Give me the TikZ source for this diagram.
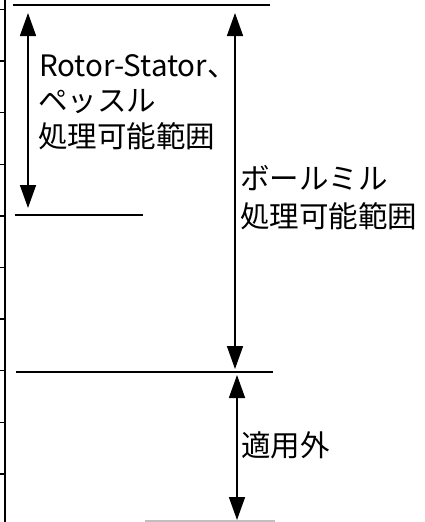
\documentclass[tikz,border=0pt]{standalone}
\usepackage{fontspec}
\setmainfont{Noto Sans CJK JP}
\usetikzlibrary{arrows.meta}
\begin{document}
\begin{tikzpicture}[x=1pt,y=-1pt,
  rule/.style={line width=2.4pt},
  axisline/.style={line width=2pt},
  tickline/.style={line width=1.4pt},
  faint/.style={line width=1.2pt, draw=black!25},
  dim/.style={line width=1.6pt, {Triangle[length=23pt,width=16pt]}-{Triangle[length=23pt,width=16pt]}},
  lbl/.style={anchor=base west, inner sep=0pt, font=\fontsize{29.5}{36}\selectfont}]
\useasboundingbox (0,0) rectangle (425,522);
% left scale
\coordinate (axT) at (5,0);
\coordinate (axB) at (5,522);
\draw[axisline] (axT) -- (axB);
\foreach \k in {0,...,9} \draw[tickline] (0,9.4+51.6*\k) -- (5,9.4+51.6*\k);
% horizontal limit lines
\coordinate (topL) at (13,5);   \coordinate (topR) at (270,5);
\coordinate (midL) at (15,215); \coordinate (midR) at (143,215);
\coordinate (lowL) at (16,372); \coordinate (lowR) at (273,372);
\coordinate (botL) at (145,521); \coordinate (botR) at (275,521);
\draw[rule] (topL) -- (topR);
\draw[rule] (midL) -- (midR);
\draw[rule] (lowL) -- (lowR);
\draw[faint] (botL) -- (botR);
% dimension arrows
\coordinate (a1t) at (28,13);  \coordinate (a1b) at (28,208);
\coordinate (a2t) at (235,13); \coordinate (a2b) at (235,369);
\coordinate (a3t) at (237,375); \coordinate (a3b) at (237,520);
\draw[dim] (a1t) -- (a1b);
\draw[dim] (a2t) -- (a2b);
\draw[dim] (a3t) -- (a3b);
% labels
\node[lbl] (rs1) at (39,76) {Rotor-Stator、};
\node[lbl] (rs2) at (38,111) {ペッスル};
\node[lbl] (rs3) at (38,147) {処理可能範囲};
\node[lbl] (bm1) at (240,189) {ボールミル};
\node[lbl] (bm2) at (240,227) {処理可能範囲};
\node[lbl] (na) at (241,456) {適用外};
\end{tikzpicture}
\end{document}
